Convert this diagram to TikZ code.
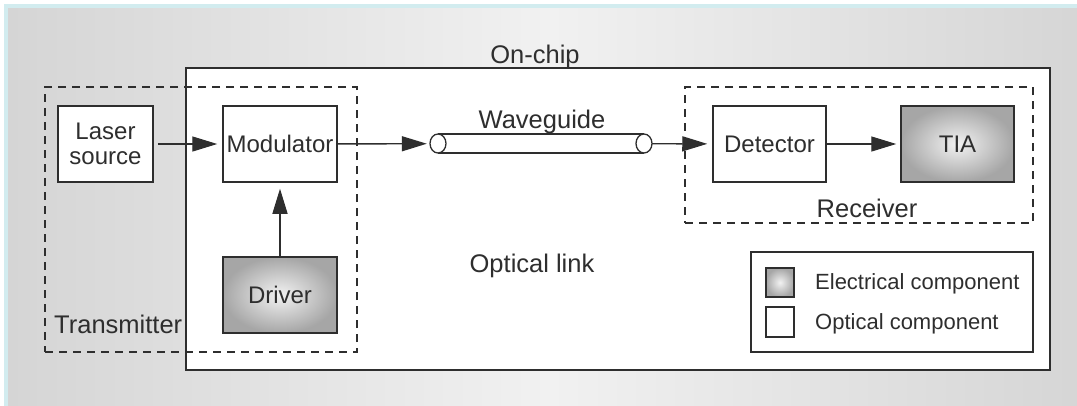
\documentclass[tikz,border=0pt]{standalone}
\usepackage{fontspec}
\setmainfont{Liberation Sans}
\usetikzlibrary{arrows.meta}
\definecolor{bgcyan}{HTML}{D2ECEF}
\definecolor{bgedge}{HTML}{D5D5D5}
\definecolor{bgmid}{HTML}{F1F1F1}
\definecolor{ink}{HTML}{2E2E2E}
\definecolor{elecout}{HTML}{A6A6A6}
\definecolor{elecin}{HTML}{F2F2F2}
\begin{document}
\begin{tikzpicture}[x=1pt,y=-1pt,
  optbox/.style={draw=ink, line width=1.5pt, fill=white, inner sep=0pt,
    minimum width=#1, minimum height=76pt, font=\fontsize{24}{25}\selectfont, align=center, text=ink},
  optbox/.default=114pt,
  elecbox/.style={draw=ink, line width=1.5pt, inner sep=0pt, inner color=elecin, outer color=elecout,
    minimum width=#1, minimum height=76pt, font=\fontsize{24}{25}\selectfont, text=ink},
  elecbox/.default=114pt,
  dashbox/.style={draw=ink, line width=1.3pt, dash pattern=on 8pt off 6pt, inner sep=0pt},
  lbl/.style={font=\fontsize{25.5}{27}\selectfont, text=ink, inner sep=0pt, anchor=base},
  leglbl/.style={font=\fontsize{22}{24}\selectfont, text=ink, inner sep=0pt, anchor=base west},
  arr/.style={draw=ink, line width=1.4pt, -{Triangle[length=25pt,width=15pt]}},
]
\useasboundingbox (0,0) rectangle (1077,405);
% background
\fill[white] (0,0) rectangle (1077,405);
\fill[bgcyan] (4,4) rectangle (1090,415);
\shade[left color=bgedge, right color=bgedge, middle color=bgmid] (8,8) rectangle (1090,415);

% containers
\node[draw=ink, line width=1.8pt, fill=white, inner sep=0pt, minimum width=864pt, minimum height=302pt] (onchip) at (618,219) {};
\node[dashbox, minimum width=312pt, minimum height=265pt] (tx) at (201,219.5) {};
\node[dashbox, minimum width=348pt, minimum height=136pt] (rx) at (859,155) {};
\node[draw=ink, line width=1.5pt, inner sep=0pt, minimum width=282pt, minimum height=100pt] (legend) at (892,302) {};

% labels
\node[lbl] (onchiplbl) at (535,63) {On-chip};
\node[lbl, anchor=base west] (txlbl) at (54,333) {Transmitter};
\node[lbl] (rxlbl) at (867,217) {Receiver};
\node[lbl] (linklbl) at (532,272) {Optical link};
\node[lbl] (wglbl) at (542,128) {Waveguide};

% components
\node[optbox=95pt] (laser) at (105.5,144) {Laser\\source};
\node[optbox] (mod) at (280,144) {Modulator};
\node[elecbox] (driver) at (280,295) {Driver};
\node[optbox=113pt] (det) at (769.5,144) {Detector};
\node[elecbox=113pt] (tia) at (957.5,144) {TIA};

% waveguide
\node[inner sep=0pt, minimum width=222pt, minimum height=19pt] (wg) at (541,143.5) {};
\fill[white] (438,134) rectangle (644,153);
\draw[ink, line width=1.3pt] (438,134) -- (644,134);
\draw[ink, line width=1.3pt] (438,153) -- (644,153);
\draw[ink, line width=1.3pt, fill=white] (438,143.5) ellipse [x radius=8, y radius=9.5];
\draw[ink, line width=1.3pt, fill=white] (644,143.5) ellipse [x radius=8, y radius=9.5];

% legend
\node[draw=ink, line width=1.3pt, inner sep=0pt, inner color=elecin, outer color=elecout, minimum width=28pt, minimum height=29pt] (legE) at (780,282.5) {};
\node[draw=ink, line width=1.3pt, fill=white, inner sep=0pt, minimum width=28pt, minimum height=30pt] (legO) at (780,322) {};
\node[leglbl] (legEl) at (815,289) {Electrical component};
\node[leglbl] (legOl) at (815,329) {Optical component};

% connectors
\draw[arr, shorten <=4pt, shorten >=5pt] (laser) -- (mod);
\draw[arr, shorten >=6pt] (driver) -- (mod);
\draw[arr, shorten >=3pt] (mod) -- (wg);
\draw[arr, shorten >=5pt] (wg) -- (det);
\draw[arr, shorten >=4pt] (det) -- (tia);
\end{tikzpicture}
\end{document}
